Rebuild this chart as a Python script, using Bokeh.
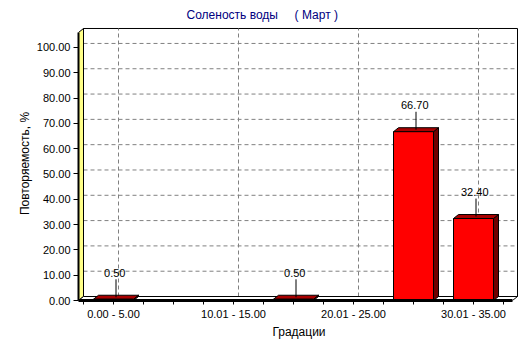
from bokeh.plotting import figure
from bokeh.models import Range1d, FixedTicker, Title, ColumnDataSource, PrintfTickFormatter
from bokeh.embed import file_html
from bokeh.resources import INLINE
from bokeh.core.properties import value

# ---- data ----
categories = ["0.00 - 5.00", "5.01 - 10.00", "10.01 - 15.00", "15.01 - 20.00",
              "20.01 - 25.00", "25.01 - 30.00", "30.01 - 35.00"]
values = [0.5, 0.0, 0.0, 0.5, 0.0, 66.7, 32.4]
y_ticks = [0, 10, 20, 30, 40, 50, 60, 70, 80, 90, 100]
title_text = "Соленость воды\u00a0\u00a0\u00a0\u00a0\u00a0( Март )"
x_title = "Градации"
y_title = "Повторяемость, %"

# ---- geometry (pixels) ----
W, H = 532, 343
LEFT, RIGHT, TOP, BOTTOM = 78, 519, 25, 300
PXX = 60.0     # px per category
PXY = 2.54     # px per percent
x0 = -35.0 / PXX
x1 = x0 + (RIGHT - LEFT) / PXX
y0 = 0.0
y1 = (BOTTOM - TOP) / PXY


def X(px):
    return x0 + (px - LEFT) / PXX


def Y(py):
    return (BOTTOM - py) / PXY


DX = 5.0 / PXX
DY = 4.0 / PXY
BW = 40.0 / PXX
FONT = "Liberation Sans"

p = figure(width=W, height=H, output_backend="svg", toolbar_location=None,
           x_range=Range1d(x0, x1), y_range=Range1d(y0, y1),
           min_border_left=LEFT, min_border_right=W - RIGHT,
           min_border_top=TOP, min_border_bottom=H - BOTTOM)
p.outline_line_color = None
p.grid.visible = False
p.background_fill_color = "white"
p.border_fill_color = "white"

p.add_layout(Title(text=title_text, align="left", offset=108,
                   text_font_size="12px", text_font=FONT,
                   text_font_style="normal", text_color="#000080"), "above")

# back wall
bx0, bx1 = X(83), X(517)
by0, by1 = Y(296), Y(27)
p.patch([bx0, bx1, bx1, bx0], [by0, by0, by1, by1], fill_color="white",
        line_color="black", line_width=1)

# grid on back wall
gy = [t + DY for t in y_ticks if t > 0]
p.segment(x0=[bx0] * len(gy), y0=gy, x1=[bx1] * len(gy), y1=gy,
          line_color="#808080", line_dash="4 3", line_width=1)
gx = [i + DX for i in range(0, len(categories), 2)]
p.segment(x0=gx, y0=[by0] * len(gx), x1=gx, y1=[by1] * len(gx),
          line_color="#808080", line_dash="4 3", line_width=1)

# left wall (yellow)
p.patch([X(78), X(83), X(83), X(78)], [Y(300), Y(296), Y(27), Y(31)],
        fill_color="#ffff88", line_color="black", line_width=1)

# floor
p.patch([X(78), X(512), X(517), X(83)], [Y(300), Y(300), Y(296), Y(296)],
        fill_color="white", line_color="black", line_width=1)

# bars
idx = [i for i, v in enumerate(values) if v > 0]
cx = [float(i) for i in idx]
vv = [values[i] for i in idx]
side_xs = [[c + BW / 2, c + BW / 2 + DX, c + BW / 2 + DX, c + BW / 2] for c in cx]
side_ys = [[0, DY, v + DY, v] for v in vv]
p.patches(side_xs, side_ys, fill_color="#700000", line_color="black", line_width=1)
top_xs = [[c - BW / 2, c - BW / 2 + DX, c + BW / 2 + DX, c + BW / 2] for c in cx]
top_ys = [[v, v + DY, v + DY, v] for v in vv]
p.patches(top_xs, top_ys, fill_color="#a80000", line_color="black", line_width=1)
p.vbar(x=cx, top=vv, bottom=0, width=BW, fill_color="#ff0000",
       line_color="black", line_width=1)

# value labels with leader lines
LEAD = 20.0 / PXY
lx = [c + DX / 2 for c in cx]
p.segment(x0=lx, y0=[v + DY / 2 for v in vv], x1=lx, y1=[v + LEAD for v in vv],
          line_color="black", line_width=1)
src = ColumnDataSource(dict(x=[c + DX / 4 for c in cx],
                            y=[v + LEAD + 2.5 / PXY for v in vv],
                            t=["%.2f" % v for v in vv]))
p.text(x="x", y="y", text="t", source=src, text_font=value(FONT),
       text_font_size="11px", text_align="center", text_baseline="bottom",
       text_color="black")

# axes
p.yaxis.ticker = FixedTicker(ticks=y_ticks)
p.yaxis.formatter = PrintfTickFormatter(format="%.2f")
p.yaxis.bounds = (0, Y(31))
p.yaxis.major_tick_out = 5
p.yaxis.major_tick_in = 0
p.yaxis.minor_tick_out = 0
p.yaxis.minor_tick_in = 0
p.yaxis.axis_line_width = 2
p.yaxis.major_label_standoff = 3
p.yaxis.axis_label = y_title
p.yaxis.axis_label_standoff = 2

p.xaxis.ticker = FixedTicker(ticks=list(range(len(categories))),
                             minor_ticks=[i - 0.5 for i in range(len(categories) + 1)])
p.xaxis.major_label_overrides = {i: (c if i % 2 == 0 else "") for i, c in enumerate(categories)}
p.xaxis.bounds = (x0, X(512))
p.xaxis.major_tick_out = 4
p.xaxis.major_tick_in = 0
p.xaxis.minor_tick_out = 4
p.xaxis.minor_tick_in = 0
p.xaxis.axis_line_width = 3
p.xaxis.major_label_standoff = 3
p.xaxis.axis_label = x_title
p.xaxis.axis_label_standoff = 2

for ax in (p.xaxis, p.yaxis):
    ax.major_label_text_font = FONT
    ax.major_label_text_font_size = "11px"
    ax.major_label_text_color = "black"
    ax.axis_label_text_font = FONT
    ax.axis_label_text_font_size = "12px"
    ax.axis_label_text_font_style = "normal"
    ax.axis_label_text_color = "black"
    ax.axis_line_color = "black"
    ax.major_tick_line_color = "black"
    ax.minor_tick_line_color = "black"

open("out.html", "w").write(file_html(p, INLINE))
